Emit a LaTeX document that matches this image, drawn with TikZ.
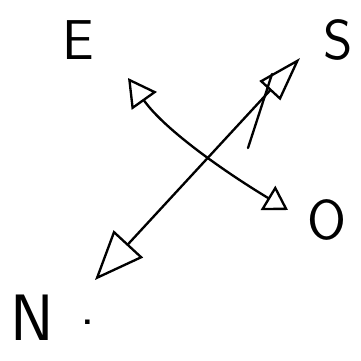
\documentclass[tikz,border=0pt]{standalone}
\usetikzlibrary{arrows.meta}
\tikzset{
  lbl/.style={font=\sffamily\fontsize{48}{48}\selectfont, inner sep=0pt},
  biglbl/.style={lbl, font=\sffamily\fontsize{56}{56}\selectfont},
  stroke/.style={line width=2pt, line cap=round, line join=round},
}
\begin{document}
\begin{tikzpicture}[x=0.03cm, y=-0.03cm]
\useasboundingbox (0,0) rectangle (361,360);
% compass letters
\node[lbl] (E) at (78,40) {E};
\node[lbl] (S) at (338,40) {S};
\node[lbl] (O) at (327,220) {O};
\node[biglbl] (N) at (32,318) {N};
\node[lbl] (Ndot) at (88,322) {.};
% arrow ends
\coordinate (e) at (128,78);
\coordinate (o) at (288,210);
\coordinate (n) at (95,280);
\coordinate (s) at (300,58);
\coordinate (s2) at (248,148);
\coordinate (s3) at (272,74);
\draw[stroke, {Triangle[open, length=24pt, width=26pt]}-{Triangle[open, length=20pt, width=24pt]}]
  (e) .. controls (165,130) and (225,172) .. (o);
\draw[stroke, {Triangle[open, length=42pt, width=34pt]}-{Triangle[open, length=38pt, width=24pt]}]
  (n) -- (s);
\draw[stroke] (s2) -- (s3);
\end{tikzpicture}
\end{document}
